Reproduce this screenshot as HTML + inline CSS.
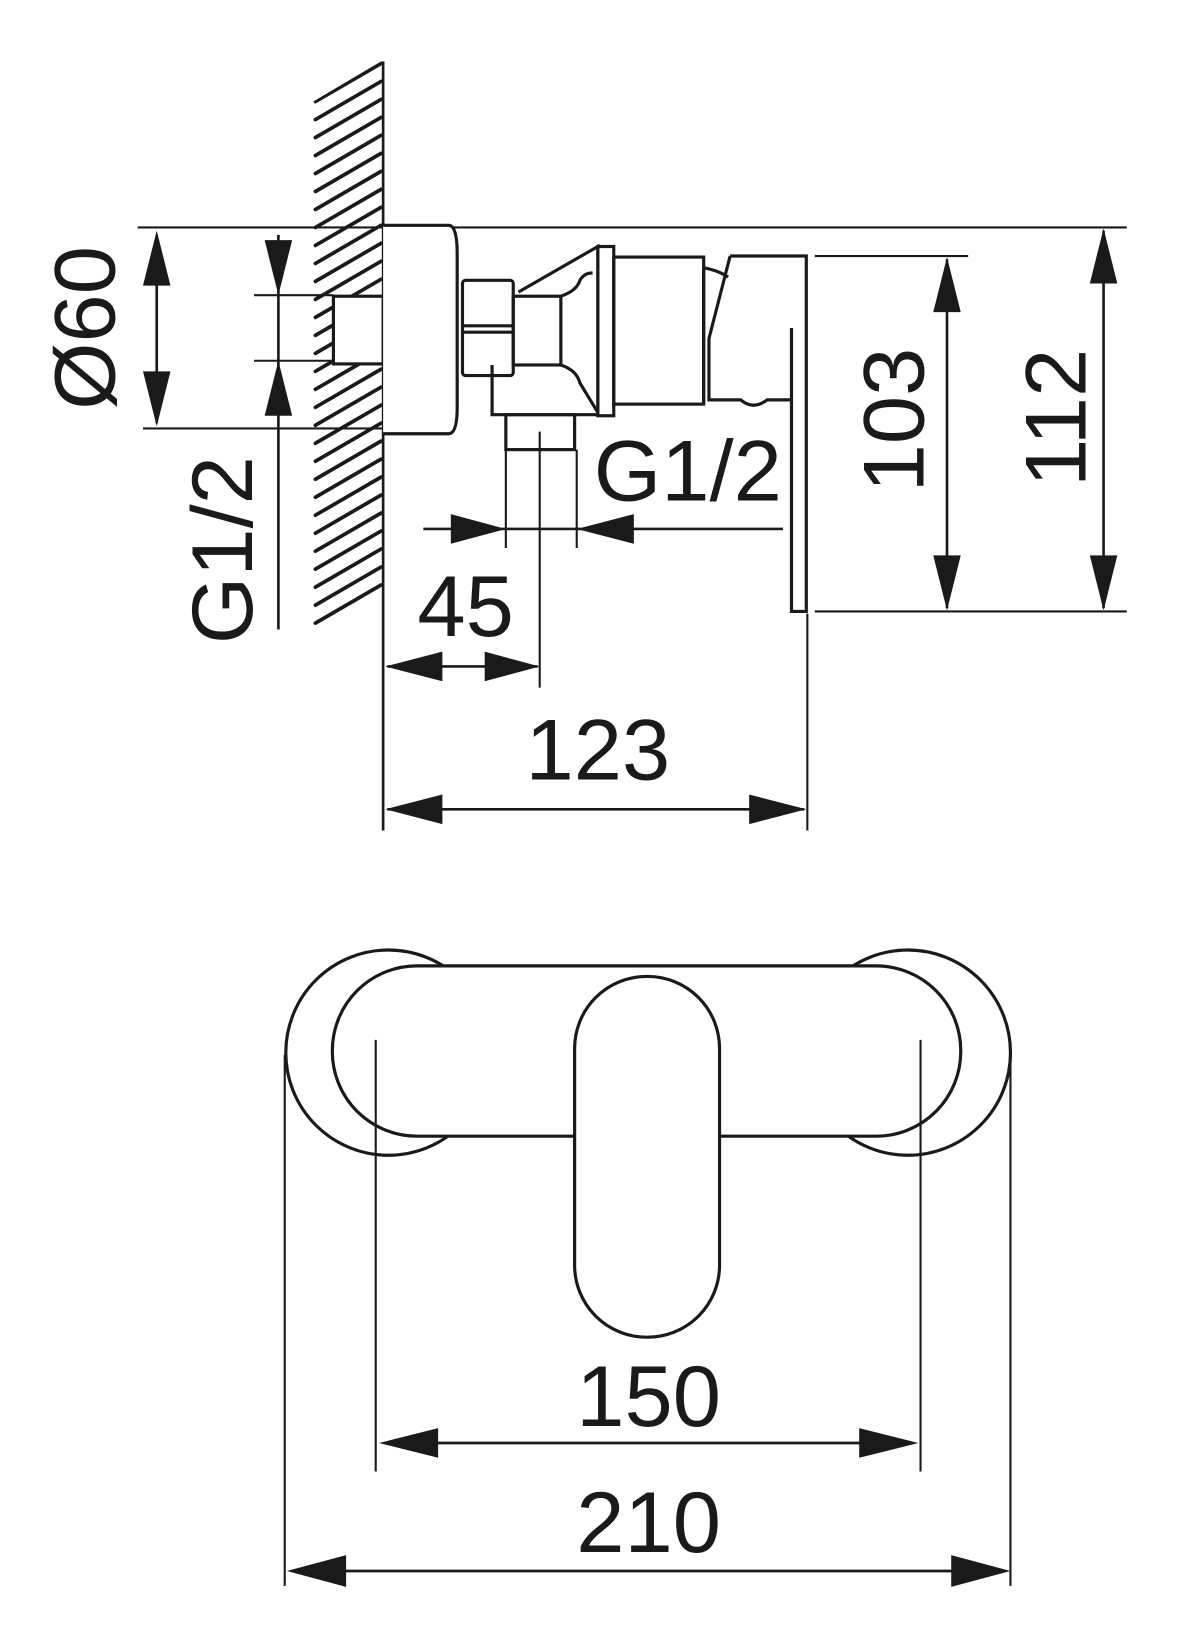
<!DOCTYPE html>
<html><head><meta charset="utf-8"><style>
html,body{margin:0;padding:0;background:#fff;}
svg{display:block;}
text{font-family:"Liberation Sans",sans-serif;fill:#1a1a1a;}
</style></head><body>
<svg width="1200" height="1644" viewBox="0 0 1134 1554" xmlns="http://www.w3.org/2000/svg">
<defs>
<clipPath id="hc"><polygon points="296,96 360,58 362,58 362,560 296,598"/></clipPath>
</defs>
<g stroke="#1a1a1a" stroke-width="3" fill="none" stroke-linecap="round">
<g clip-path="url(#hc)" stroke-width="3.5">
<path d="M298 96 l62 -36 M298 113 l62 -36 M298 130 l62 -36 M298 147 l62 -36 M298 164 l62 -36 M298 181 l62 -36 M298 198 l62 -36 M298 215 l62 -36 M298 232 l62 -36 M298 249 l62 -36 M298 266 l62 -36 M298 283 l62 -36 M298 300 l62 -36 M298 317 l62 -36 M298 334 l62 -36 M298 351 l62 -36 M298 368 l62 -36 M298 385 l62 -36 M298 402 l62 -36 M298 419 l62 -36 M298 436 l62 -36 M298 453 l62 -36 M298 470 l62 -36 M298 487 l62 -36 M298 504 l62 -36 M298 521 l62 -36 M298 538 l62 -36 M298 555 l62 -36 M298 572 l62 -36 M298 589 l62 -36 M298 606 l62 -36"/>
</g>
</g>
<g stroke="#1a1a1a" stroke-width="3" fill="none" stroke-linecap="butt">
<line x1="362" y1="58" x2="362" y2="785" stroke-width="2.5"/>
<line x1="130" y1="215" x2="1065" y2="215" stroke-width="2"/>
<line x1="135" y1="405" x2="362" y2="405" stroke-width="2"/>
<line x1="240" y1="279" x2="315" y2="279" stroke-width="2"/>
<line x1="240" y1="341" x2="315" y2="341" stroke-width="2"/>
<line x1="770" y1="242" x2="915" y2="242" stroke-width="2"/>
<line x1="770" y1="578" x2="1065" y2="578" stroke-width="2"/>
<line x1="763" y1="580" x2="763" y2="785" stroke-width="2"/>
<line x1="510" y1="408" x2="510" y2="650" stroke-width="2"/>
<line x1="478" y1="425" x2="478" y2="518" stroke-width="2"/>
<line x1="545" y1="425" x2="545" y2="518" stroke-width="2"/>
<line x1="148" y1="222" x2="148" y2="400" stroke-width="2.5"/>
<line x1="263" y1="222" x2="263" y2="595" stroke-width="2.5"/>
<line x1="895" y1="245" x2="895" y2="575" stroke-width="2.5"/>
<line x1="1043" y1="218" x2="1043" y2="575" stroke-width="2.5"/>
<line x1="366" y1="765" x2="760" y2="765" stroke-width="2.5"/>
<line x1="400" y1="500" x2="740" y2="500" stroke-width="2.5"/>
<line x1="366" y1="630" x2="508" y2="630" stroke-width="2.5"/>
<rect x="315" y="280" width="47" height="64" fill="#fff"/>
<path d="M362 213 H424 Q432 213 432 240 V385 Q432 410 424 410 H362" fill="#fff"/>
<rect x="437" y="265" width="48" height="90" rx="3" fill="#fff"/>
<line x1="437" y1="308" x2="485" y2="308"/>
<line x1="437" y1="314" x2="485" y2="314"/>
<rect x="485" y="280" width="45" height="65"/>
<path d="M490 276 L565 233 V392"/>
<path d="M530 280 Q545 275 548 265 Q552 258 560 258"/>
<path d="M530 345 Q545 350 548 362 L565 390"/>
<rect x="565" y="233" width="15" height="160" fill="#fff"/>
<rect x="580" y="243" width="85" height="139"/>
<path d="M665 253 Q680 256 688 262 M665 253 V380"/>
<path d="M690 242 H762 V578 H748 V310 M690 242 L670 320 V378 H700 Q712 388 725 378 H748"/>
<path d="M465 345 V392 H565"/>
<rect x="478" y="392" width="65" height="33"/>
</g>
<g fill="#1a1a1a">
<path d="M148 218 l-13 52 h26z M148 403 l-13 -52 h26z"/>
<path d="M263 279 l-13 -52 h26z M263 341 l-13 52 h26z"/>
<path d="M895 243 l-13 52 h26z M895 577 l-13 -52 h26z"/>
<path d="M1043 216 l-13 52 h26z M1043 577 l-13 -52 h26z"/>
<path d="M364 765 l54 -14 v28z M762 765 l-54 -14 v28z"/>
<path d="M478 500 l-52 -14 v28z M545 500 l54 -14 v28z"/>
<path d="M364 630 l54 -14 v28z M510 630 l-52 -14 v28z"/>
<path d="M358 1364 l56 -14 v28z M868 1364 l-56 -14 v28z"/>
<path d="M271 1485 l56 -15 v30z M955 1485 l-56 -15 v30z"/>
</g>
<g font-size="82">
<text x="565" y="737" text-anchor="middle">123</text>
<text x="440" y="601" text-anchor="middle">45</text>
<text x="650" y="473" text-anchor="middle">G1/2</text>
<text transform="translate(108,310) rotate(-90)" text-anchor="middle">Ø60</text>
<text transform="translate(238,520) rotate(-90)" text-anchor="middle">G1/2</text>
<text transform="translate(873,397) rotate(-90)" text-anchor="middle">103</text>
<text transform="translate(1026,395) rotate(-90)" text-anchor="middle">112</text>
<text x="613" y="1348" text-anchor="middle">150</text>
<text x="613" y="1467" text-anchor="middle">210</text>
</g>
<g stroke="#1a1a1a" stroke-width="3" fill="none">
<circle cx="367" cy="995" r="97"/>
<circle cx="858" cy="995" r="97"/>
<rect x="314" y="913" width="594" height="161" rx="80" fill="#fff"/>
<rect x="543" y="923" width="137" height="341" rx="68" fill="#fff"/>
<g stroke-width="2">
<line x1="355" y1="983" x2="355" y2="1391"/>
<line x1="870" y1="983" x2="870" y2="1391"/>
<line x1="269" y1="997" x2="269" y2="1499"/>
<line x1="955" y1="997" x2="955" y2="1499"/>
</g>
<line x1="410" y1="1364" x2="816" y2="1364" stroke-width="2.5"/>
<line x1="320" y1="1485" x2="905" y2="1485" stroke-width="2.5"/>
</g>
</svg>
</body></html>
